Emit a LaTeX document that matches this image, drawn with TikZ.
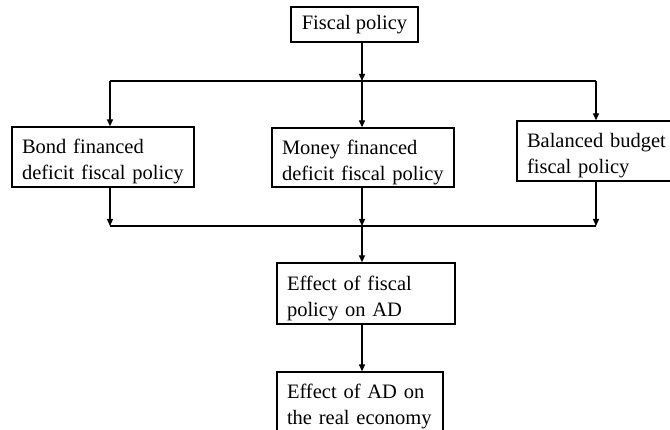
\documentclass[tikz,border=0pt]{standalone}
\usepackage{fontspec}
\setmainfont{Liberation Serif}
\usetikzlibrary{arrows.meta,calc}
\newcommand{\lowr}{\rule{0pt}{24pt}}
\begin{document}
\begin{tikzpicture}[x=1pt,y=1pt,
  box/.style={draw,line width=1.3pt,inner xsep=10pt,inner ysep=0pt,align=left,
    font=\fontsize{20.5}{26}\selectfont},
  arr/.style={line width=1.3pt,-{Triangle[length=7pt,width=6pt]}},
  ln/.style={line width=1.3pt}]
\useasboundingbox (0,0) rectangle (670,430);
\node[box,align=center,inner xsep=0pt,minimum width=127pt,minimum height=35pt] (fp) at (354.5,405.5) {Fiscal policy};
\node[box,text width=162pt,minimum height=60pt] (bond) at (103,273) {\lowr Bond financed\\deficit fiscal policy};
\node[box,text width=162pt,minimum height=59pt] (money) at (363,272.5) {\lowr Money financed\\deficit fiscal policy};
\node[box,text width=146pt,minimum height=60pt] (bal) at (600,279) {\lowr Balanced budget\\fiscal policy};
\node[box,text width=158pt,minimum height=61pt] (eff1) at (366,136.5) {\lowr Effect of fiscal\\policy on AD};
\node[box,text width=146pt,minimum height=60pt] (eff2) at (360,28) {\lowr Effect of AD on\\the real economy};
\coordinate (tc) at (362,349);
\coordinate (tl) at (110,349);
\coordinate (tr) at (596,349);
\coordinate (bc) at (362,204);
\coordinate (bl) at (110,204);
\coordinate (br) at (596,204);
% top distribution
\draw[arr] (fp.south -| tc) -- (tc);
\draw[ln] (tl) -- (tr);
\draw[arr] (tc) -- (money.north -| tc);
\draw[arr] (tl) -- (bond.north -| tl);
\draw[arr] (tr) -- (bal.north -| tr);
% bottom collection
\draw[arr] (bond.south -| bl) -- (bl);
\draw[arr] (money.south -| bc) -- (bc);
\draw[arr] (bal.south -| br) -- (br);
\draw[ln] (bl) -- (br);
\draw[arr] (bc) -- (eff1.north -| bc);
\draw[arr] (eff1.south -| bc) -- (eff2.north -| bc);
\end{tikzpicture}
\end{document}
